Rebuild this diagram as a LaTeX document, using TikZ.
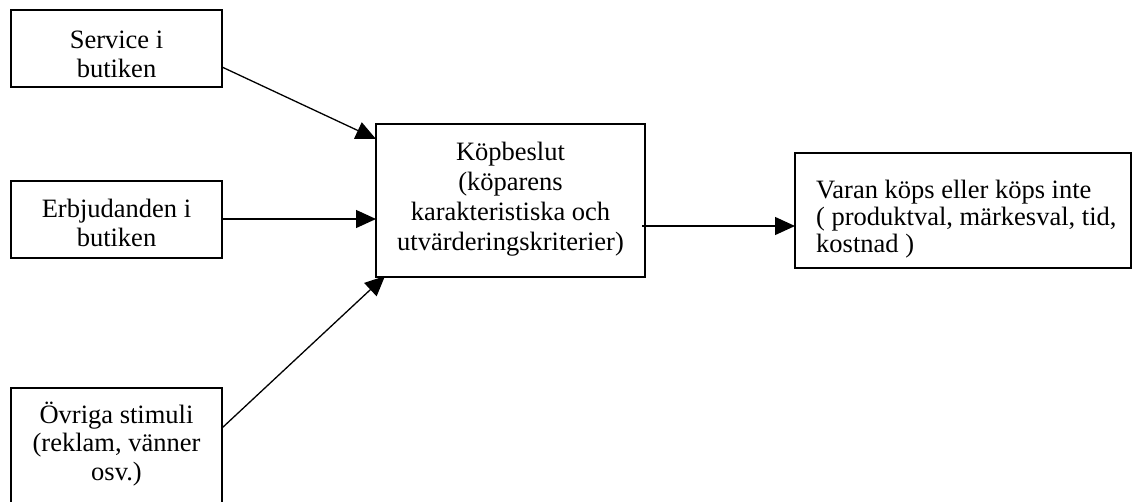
\documentclass[tikz,border=0pt]{standalone}
\usepackage{fontspec}
\setmainfont{Liberation Serif}
\usetikzlibrary{arrows.meta,calc}
\begin{document}
\begin{tikzpicture}[x=1pt,y=-1pt,
  box/.style={draw,line width=1.3pt,inner sep=0pt,outer sep=0pt,anchor=north west},
  txt/.style={inner sep=0pt,anchor=north,align=center},
  arr/.style={line width=1.3pt,-{Triangle[length=20pt,width=18pt]}}]
\useasboundingbox (0,0) rectangle (1133,501);
\clip (0,0) rectangle (1133,501);
% boxes
\node[box,minimum width=211pt,minimum height=77pt] (s) at (11,10) {};
\node[box,minimum width=211pt,minimum height=77pt] (e) at (11,181) {};
\node[box,minimum width=211pt,minimum height=140pt] (o) at (11,388) {};
\node[box,minimum width=269pt,minimum height=153pt] (K) at (376,124) {};
\node[box,minimum width=336pt,minimum height=115pt] (R) at (795,153) {};
% texts
\node[txt,font=\fontsize{26.5}{29.5}\selectfont] (st) at (116.5,24) {\rule{0pt}{24pt}Service i\\butiken};
\node[txt,font=\fontsize{26.5}{29}\selectfont] (et) at (116.5,193) {\rule{0pt}{24pt}Erbjudanden i\\butiken};
\node[txt,font=\fontsize{26.5}{28.5}\selectfont] (ot) at (116.5,399) {\rule{0pt}{24pt}Övriga stimuli\\(reklam, vänner\\osv.)};
\node[txt,font=\fontsize{26.5}{30}\selectfont] (Kt) at (510.5,136) {\rule{0pt}{24pt}Köpbeslut\\(köparens\\karakteristiska och\\utvärderingskriterier)};
\node[txt,anchor=north west,align=left,font=\fontsize{26.5}{27}\selectfont] (Rt) at (816,174) {\rule{0pt}{24pt}Varan köps eller köps inte\\( produktval, märkesval, tid,\\kostnad )};
% connectors
\draw[arr] ($(s.north east)+(0,57)$) -- ($(K.north west)+(0,15)$);
\draw[arr] ($(e.north east)+(0,38)$) -- ($(K.north west)+(0,95)$);
\draw[arr] ($(o.north east)+(0,40)$) -- ($(K.south west)+(9,-1)$);
\draw[arr] ($(K.south east)+(-3,-51)$) -- ($(R.north west)+(0,73)$);
\end{tikzpicture}
\end{document}
